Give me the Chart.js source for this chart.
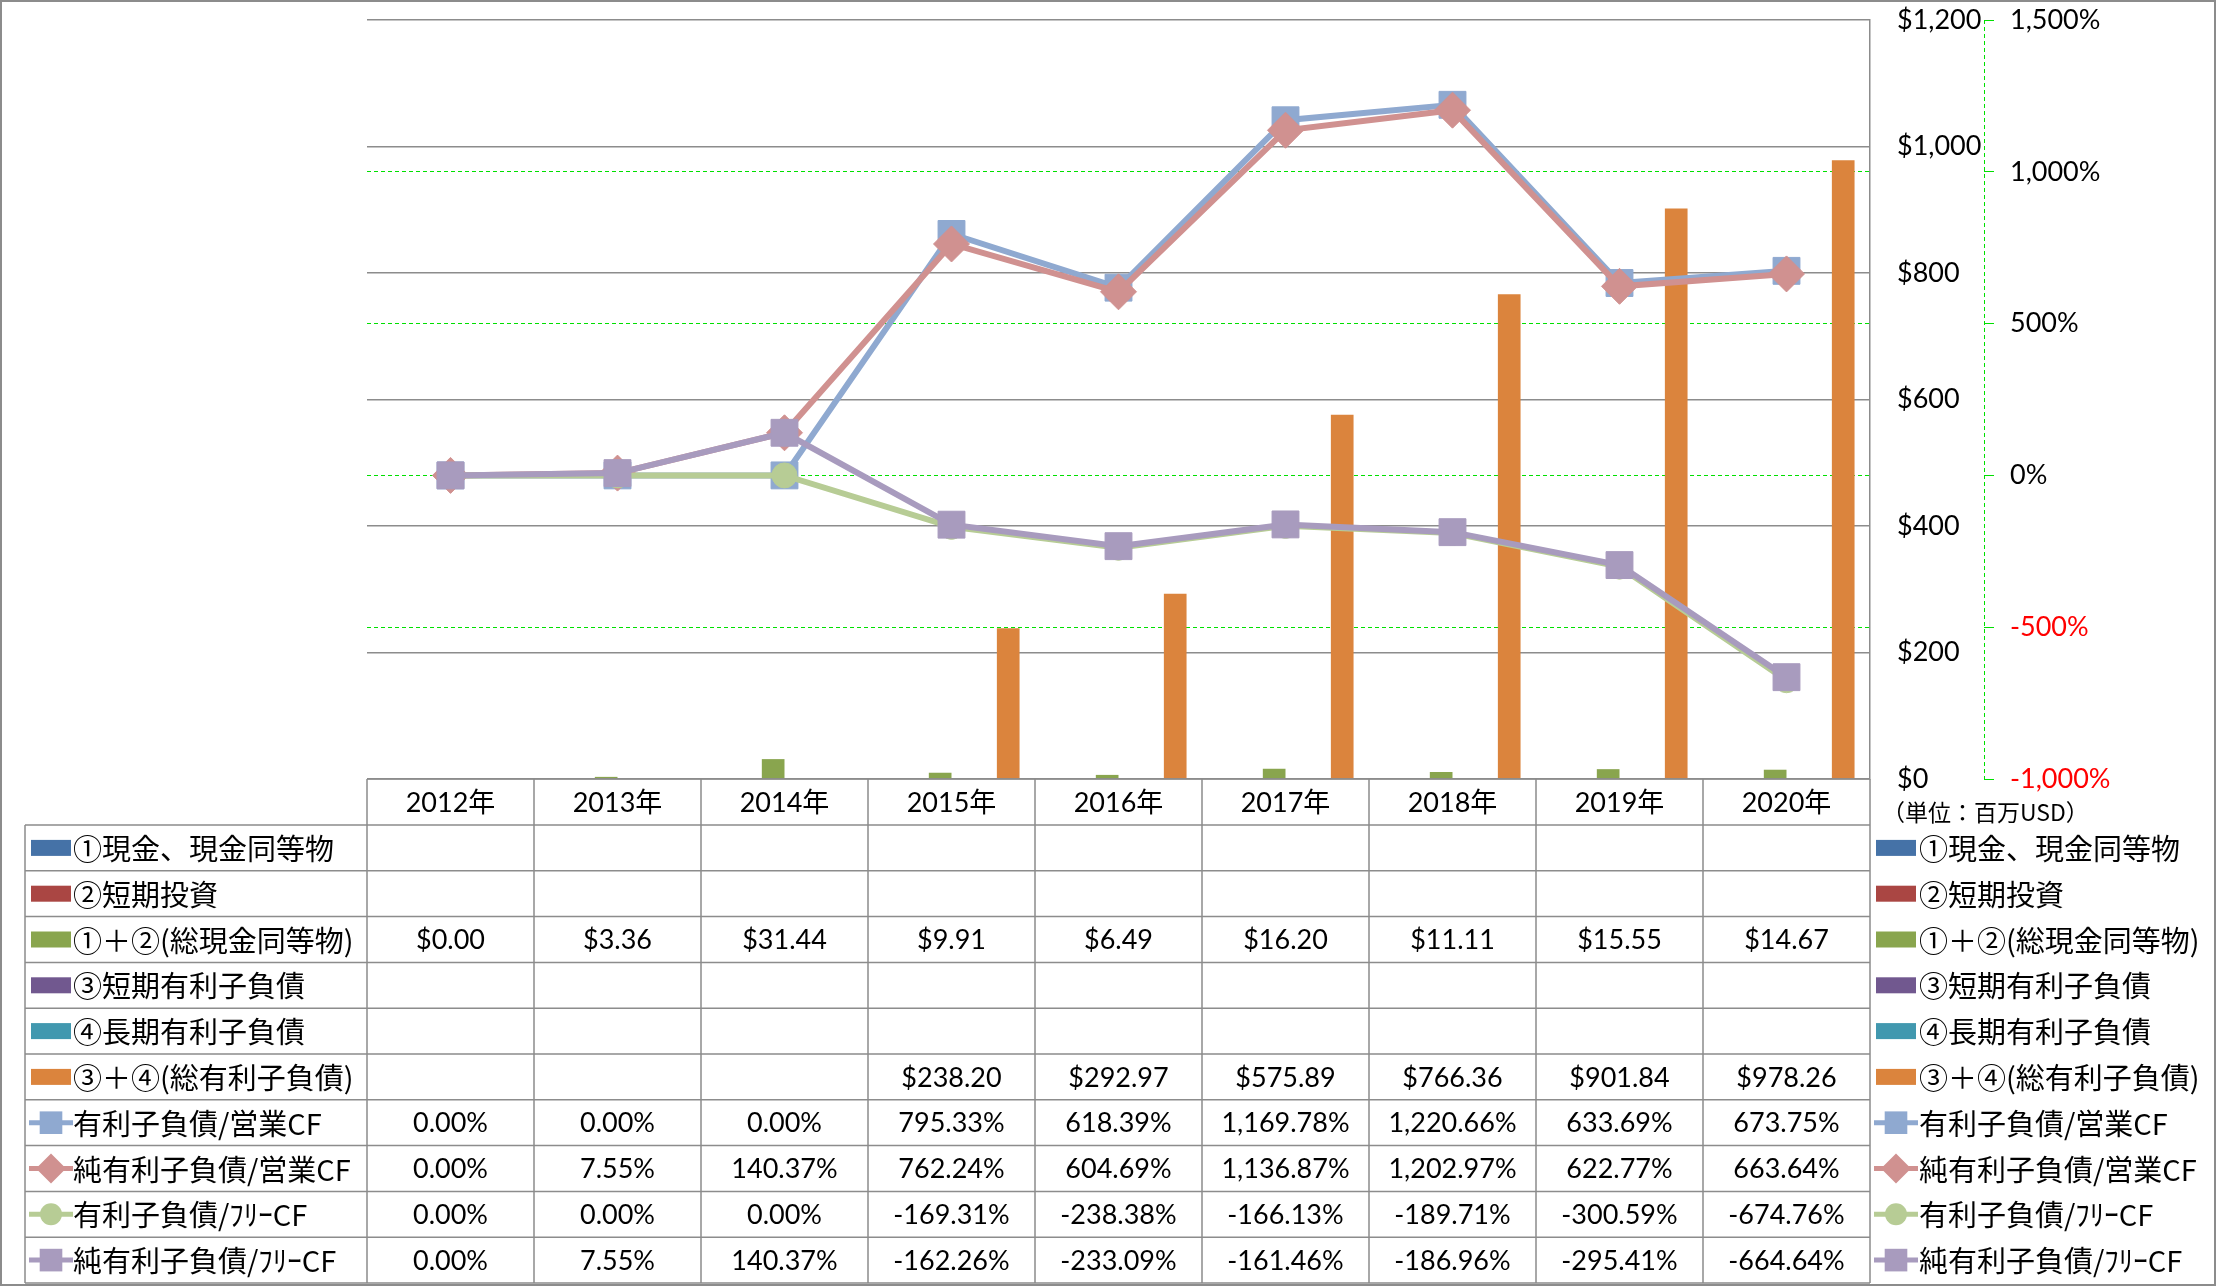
<!DOCTYPE html>
<html>
<head>
<meta charset="utf-8">
<script src="https://cdn.jsdelivr.net/npm/chart.js@4/dist/chart.umd.min.js"></script>
<style>
body { margin: 0; background: #fff; }
#wrap { width: 2216px; height: 1286px; }
</style>
</head>
<body>
<div id="wrap"><canvas id="chart" width="2216" height="1286"></canvas></div>
<script>
var years = ["2012年", "2013年", "2014年", "2015年", "2016年", "2017年", "2018年", "2019年", "2020年"];

// 単位：百万USD
var cash = [null, null, null, null, null, null, null, null, null];
var shortInvest = [null, null, null, null, null, null, null, null, null];
var totalCash = [0.00, 3.36, 31.44, 9.91, 6.49, 16.20, 11.11, 15.55, 14.67];
var shortDebt = [null, null, null, null, null, null, null, null, null];
var longDebt = [null, null, null, null, null, null, null, null, null];
var totalDebt = [null, null, null, 238.20, 292.97, 575.89, 766.36, 901.84, 978.26];

// %
var debtOpCf = [0.00, 0.00, 0.00, 795.33, 618.39, 1169.78, 1220.66, 633.69, 673.75];
var netDebtOpCf = [0.00, 7.55, 140.37, 762.24, 604.69, 1136.87, 1202.97, 622.77, 663.64];
var debtFreeCf = [0.00, 0.00, 0.00, -169.31, -238.38, -166.13, -189.71, -300.59, -674.76];
var netDebtFreeCf = [0.00, 7.55, 140.37, -162.26, -233.09, -161.46, -186.96, -295.41, -664.64];

var moneyTicks = [0, 200, 400, 600, 800, 1000, 1200];
var pctTicks = [-1000, -500, 0, 500, 1000, 1500];

var GRID_GRAY = "#8c8c8c";
var GRID_GREEN = "#00e000";
var jpFont = '"Noto Sans CJK JP", sans-serif';
var numFont = 'Lato, "Noto Sans CJK JP", sans-serif';

function fmtMoney(v) {
    if (v === null) return "";
    return "$" + v.toFixed(2);
}
function fmtPct(v) {
    if (v === null) return "";
    return v.toLocaleString("en-US", { minimumFractionDigits: 2, maximumFractionDigits: 2 }) + "%";
}

var rows = [
    { label: "①現金、現金同等物", kind: "box", color: "#4572A7", values: cash, fmt: fmtMoney },
    { label: "②短期投資", kind: "box", color: "#AA4643", values: shortInvest, fmt: fmtMoney },
    { label: "①＋②(総現金同等物)", kind: "box", color: "#89A54E", values: totalCash, fmt: fmtMoney },
    { label: "③短期有利子負債", kind: "box", color: "#71588F", values: shortDebt, fmt: fmtMoney },
    { label: "④長期有利子負債", kind: "box", color: "#4198AF", values: longDebt, fmt: fmtMoney },
    { label: "③＋④(総有利子負債)", kind: "box", color: "#DB843D", values: totalDebt, fmt: fmtMoney },
    { label: "有利子負債/営業CF", kind: "line", color: "#8FA9D0", style: "rect", values: debtOpCf, fmt: fmtPct },
    { label: "純有利子負債/営業CF", kind: "line", color: "#D09190", style: "rectRot", values: netDebtOpCf, fmt: fmtPct },
    { label: "有利子負債/ﾌﾘｰCF", kind: "line", color: "#B7CC95", style: "circle", values: debtFreeCf, fmt: fmtPct },
    { label: "純有利子負債/ﾌﾘｰCF", kind: "line", color: "#A89BBE", style: "rect", values: netDebtFreeCf, fmt: fmtPct }
];

function drawMarker(ctx, style, x, y, r) {
    ctx.beginPath();
    if (style === "rect") {
        var s = r * Math.SQRT1_2;
        ctx.rect(x - s, y - s, 2 * s, 2 * s);
    } else if (style === "rectRot") {
        ctx.moveTo(x - r, y);
        ctx.lineTo(x, y - r);
        ctx.lineTo(x + r, y);
        ctx.lineTo(x, y + r);
        ctx.closePath();
    } else {
        ctx.arc(x, y, r, 0, Math.PI * 2);
    }
    ctx.fill();
}

function drawRowKey(ctx, row, x, cy) {
    if (row.kind === "box") {
        ctx.fillStyle = row.color;
        ctx.fillRect(x, cy - 8, 40, 16);
    } else {
        ctx.strokeStyle = row.color;
        ctx.lineWidth = 5;
        ctx.beginPath();
        ctx.moveTo(x - 2, cy);
        ctx.lineTo(x + 42, cy);
        ctx.stroke();
        ctx.fillStyle = row.color;
        var r = row.style === "circle" ? 11 : (row.style === "rectRot" ? 15 : 16);
        drawMarker(ctx, row.style, x + 20, cy, r);
    }
}

var tablePlugin = {
    id: "tablePlugin",
    afterDraw: function(chart) {
        var ctx = chart.ctx;
        var ca = chart.chartArea;
        var xs = chart.scales.x;
        var half = xs.width / years.length / 2;
        var headTop = ca.bottom;
        var headBottom = 825;
        var rowH = (1283 - headBottom) / rows.length;
        var tableLeft = 25;
        var i, j;

        ctx.save();
        // table lines
        ctx.strokeStyle = GRID_GRAY;
        ctx.lineWidth = 1.5;
        ctx.beginPath();
        ctx.moveTo(ca.left, headTop);
        ctx.lineTo(ca.right, headTop);
        for (i = 0; i <= rows.length; i++) {
            var ly = headBottom + i * rowH;
            ctx.moveTo(tableLeft, ly);
            ctx.lineTo(ca.right, ly);
        }
        ctx.moveTo(tableLeft, headBottom);
        ctx.lineTo(tableLeft, 1283);
        for (j = 0; j <= years.length; j++) {
            var lx = j < years.length ? xs.getPixelForValue(j) - half : xs.getPixelForValue(j - 1) + half;
            ctx.moveTo(lx, headTop);
            ctx.lineTo(lx, 1283);
        }
        ctx.stroke();

        // header
        ctx.fillStyle = "#000";
        ctx.textAlign = "center";
        ctx.textBaseline = "middle";
        ctx.font = "27px " + numFont;
        for (j = 0; j < years.length; j++) {
            ctx.fillText(years[j], xs.getPixelForValue(j), (headTop + headBottom) / 2 + 1);
        }

        // rows
        for (i = 0; i < rows.length; i++) {
            var row = rows[i];
            var cy = headBottom + (i + 0.5) * rowH;
            drawRowKey(ctx, row, 31, cy);
            drawRowKey(ctx, row, 1876, cy);
            ctx.fillStyle = "#000";
            ctx.textAlign = "left";
            ctx.font = "29px " + jpFont;
            ctx.fillText(row.label, 73, cy + 1);
            ctx.fillText(row.label, 1919, cy + 1);
            ctx.textAlign = "center";
            ctx.font = "27px " + numFont;
            for (j = 0; j < years.length; j++) {
                ctx.fillText(row.fmt(row.values[j]), xs.getPixelForValue(j), cy + 1);
            }
        }

        // unit
        ctx.textAlign = "left";
        ctx.font = "23px " + jpFont;
        ctx.fillText("（単位：百万USD）", 1882, 812);

        // dashed % axis line
        var y1 = chart.scales.y1;
        ctx.strokeStyle = GRID_GREEN;
        ctx.lineWidth = 1;
        ctx.setLineDash([4, 3]);
        ctx.beginPath();
        ctx.moveTo(y1.left + 0.5, ca.top);
        ctx.lineTo(y1.left + 0.5, ca.bottom);
        ctx.stroke();
        ctx.setLineDash([]);

        // outer frame
        ctx.strokeStyle = GRID_GRAY;
        ctx.lineWidth = 2;
        ctx.strokeRect(1, 1, chart.width - 2, chart.height - 2);
        ctx.restore();
    }
};

function barSet(label, data, color) {
    return {
        type: "bar",
        label: label,
        data: data,
        backgroundColor: color,
        yAxisID: "y",
        order: 10,
        categoryPercentage: 0.815,
        barPercentage: 1.0
    };
}

function lineSet(label, data, color, style, radius, order) {
    return {
        type: "line",
        label: label,
        data: data,
        borderColor: color,
        backgroundColor: color,
        borderWidth: 6,
        pointStyle: style,
        pointRadius: radius,
        pointBackgroundColor: color,
        pointBorderColor: color,
        pointBorderWidth: 1,
        yAxisID: "y1",
        order: order,
        tension: 0
    };
}

function noPad(s) {
    s.paddingTop = 0;
    s.paddingBottom = 0;
}

var ctx = document.getElementById("chart");
new Chart(ctx, {
    type: "bar",
    data: {
        labels: years,
        datasets: [
            barSet(rows[0].label, cash, rows[0].color),
            barSet(rows[1].label, shortInvest, rows[1].color),
            barSet(rows[2].label, totalCash, rows[2].color),
            barSet(rows[3].label, shortDebt, rows[3].color),
            barSet(rows[4].label, longDebt, rows[4].color),
            barSet(rows[5].label, totalDebt, rows[5].color),
            lineSet(rows[6].label, debtOpCf, rows[6].color, "rect", 19, 4),
            lineSet(rows[7].label, netDebtOpCf, rows[7].color, "rectRot", 18, 3),
            lineSet(rows[8].label, debtFreeCf, rows[8].color, "circle", 12.5, 2),
            lineSet(rows[9].label, netDebtFreeCf, rows[9].color, "rect", 19, 1)
        ]
    },
    options: {
        responsive: false,
        animation: false,
        devicePixelRatio: 1,
        layout: { padding: { left: 367, top: 20, right: 0, bottom: 507 } },
        plugins: {
            legend: { display: false },
            tooltip: { enabled: false }
        },
        scales: {
            x: { display: false, offset: true },
            y: {
                position: "right",
                weight: 0,
                min: 0,
                max: 1200,
                afterBuildTicks: function(s) { s.ticks = moneyTicks.map(function(v) { return { value: v }; }); },
                afterFit: function(s) { s.width = 114; noPad(s); },
                grid: { color: GRID_GRAY, lineWidth: 1.5, drawTicks: false },
                border: { display: true, color: GRID_GRAY, width: 1.5 },
                ticks: {
                    padding: 27,
                    color: "#000",
                    font: { family: numFont, size: 27 },
                    callback: function(v) { return "$" + v.toLocaleString("en-US"); }
                }
            },
            y1: {
                position: "right",
                weight: 1,
                min: -1000,
                max: 1500,
                afterBuildTicks: function(s) { s.ticks = pctTicks.map(function(v) { return { value: v }; }); },
                afterFit: function(s) { s.width = 232; noPad(s); },
                grid: {
                    color: function(c) {
                        var v = c.tick ? c.tick.value : 0;
                        return (v === -1000 || v === 1500) ? "rgba(0,0,0,0)" : GRID_GREEN;
                    },
                    tickColor: GRID_GREEN,
                    tickLength: 10,
                    lineWidth: 1
                },
                border: { display: false, dash: [4, 3] },
                ticks: {
                    padding: 16,
                    color: function(c) { return c.tick && c.tick.value < 0 ? "#ff0000" : "#000"; },
                    font: { family: numFont, size: 27 },
                    callback: function(v) { return v.toLocaleString("en-US") + "%"; }
                }
            }
        }
    },
    plugins: [tablePlugin]
});
</script>
</body>
</html>
